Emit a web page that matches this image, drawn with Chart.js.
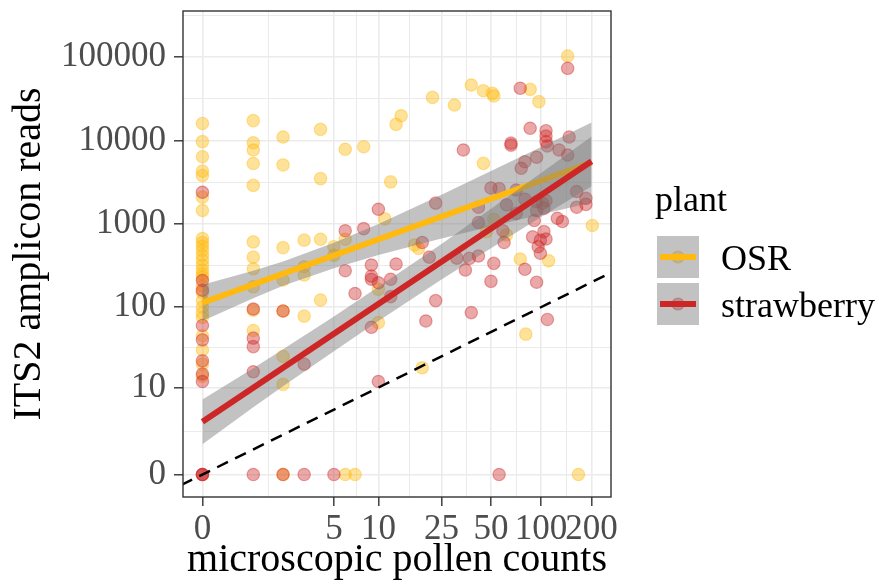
<!DOCTYPE html>
<html>
<head>
<meta charset="utf-8">
<script src="https://cdn.jsdelivr.net/npm/chart.js@4"></script>
<style>
  html, body { margin: 0; padding: 0; background: #fff; }
</style>
</head>
<body>
<canvas id="pollenChart" width="879" height="588"></canvas>
<script>
// both axes are drawn on a log10(value + 1) scale
const xTicks = [0, 5, 10, 25, 50, 100, 200];
const yTicks = [0, 10, 100, 1000, 10000, 100000];

// OSR samples: microscopic pollen counts / ITS2 reads
const osrCounts = [
  0, 0, 0, 0, 0, 0, 0, 0, 0, 0, 0, 0, 0, 0, 0, 0, 0, 0, 0, 0, 0, 0, 0, 0, 0, 0, 0,
  1, 1, 1, 1, 1, 1, 1, 1, 1, 1, 1,
  2, 2, 2, 2, 2, 2, 2, 2,
  3, 3, 3, 3,
  4, 4, 4, 4,
  5, 5, 6, 6, 6, 7, 8, 10, 10, 11, 12, 13, 14, 17, 18, 19, 22, 30, 38,
  45, 45, 47, 51, 52, 52, 62, 75, 81, 86, 97, 111, 144, 167, 202
];
const osrReads = [
  16000, 9700, 6400, 4300, 3800, 2100, 1450, 670, 600, 540, 480, 420, 370, 320, 280, 250, 230, 180, 150, 120, 100, 85, 75, 45, 30, 20, 14,
  17300, 9400, 7700, 5300, 2900, 610, 400, 290, 176, 92, 52,
  11000, 5100, 520, 213, 90, 25, 11, 0,
  640, 307, 244, 78,
  13600, 3500, 655, 122,
  534, 420, 7850, 655, 0, 0, 8430, 164, 65, 1150, 3200, 15600, 19800, 560, 510, 18, 32900, 26600, 46200,
  39500, 5330, 810, 36700, 34200, 1140, 740, 380, 47, 41000, 29200, 362, 102800, 0, 960
];

// strawberry samples
const strawCounts = [
  0, 0, 0, 0, 0, 0, 0, 0, 0, 0, 0,
  1, 1, 1, 1, 1, 2, 2, 3, 3, 5,
  6, 6, 7, 8, 9, 9, 9, 9, 10, 10, 10, 12, 12, 13,
  19, 20, 21, 23, 23, 31, 34, 35, 37, 38, 42, 42, 42,
  50, 50, 52, 56, 56, 59, 60, 62, 66, 66, 71, 71, 75, 76, 80, 80, 80,
  86, 89, 91, 94, 94, 94, 94, 96, 99, 99, 102, 104, 104,
  107, 107, 107, 107, 107, 109, 109, 125, 128, 134, 144, 144, 147, 163, 163, 185, 185
];
const strawReads = [
  2400, 210, 160, 60, 40, 22, 15, 12, 0, 0, 0,
  95, 42, 33, 16, 0, 90, 0, 20, 0, 0,
  830, 275, 146, 880, 322, 237, 217, 57, 1500, 197, 12, 217, 134, 331,
  600, 68, 400, 1780, 120, 390, 7700, 280, 387, 86, 1590, 1040, 413,
  2700, 205, 337, 2650, 0, 830, 600, 1700, 9300, 8800, 2550, 1340, 42200, 4650, 5570, 1980, 286,
  14000, 700, 1100, 6300, 1850, 1450, 200, 534, 640, 445, 1770, 1540, 810,
  13100, 11300, 9700, 1900, 660, 8600, 71, 1170, 7700, 1070, 73200, 6700, 11000, 2450, 1590, 2030, 1720
];

// linear fits and their confidence ribbons
const fitCounts = [0, 200];
const osrFit = [113, 5450];
const strawFit = [3.3, 5650];
const bandCounts = [0, 1, 2, 5, 10, 25, 50, 100, 200];
const osrLow = [68, 128, 181, 295, 426, 672, 934, 1300, 1810];
const osrHigh = [187, 274, 355, 597, 1000, 2240, 4300, 8360, 16400];
const strawLow = [1.3, 5.4, 10.4, 29, 68, 216, 513, 1210, 2840];
const strawHigh = [6.9, 17.8, 30.6, 77, 176, 576, 1520, 4070, 11200];

// 1:1 reference line (reads = counts)
const refLine = [-0.25, 300];

const OSR_COL = '#FFB90F';
const STRAW_COL = '#CD2626';
const OSR_PT = 'rgba(255,185,15,0.42)';
const STRAW_PT = 'rgba(205,38,38,0.4)';
const RIBBON = 'rgba(120,120,120,0.45)';
const SERIF = '"Liberation Serif", "Times New Roman", serif';

const tr = v => Math.log10(v + 1);
const pts = (cs, rs) => cs.map((c, i) => ({ x: tr(c), y: tr(rs[i]) }));

function withMinor(values, min, max) {
    const major = values.map(tr);
    const minor = [];
    for (let i = 0; i < major.length - 1; i++) minor.push((major[i] + major[i + 1]) / 2);
    minor.push(major[0] - (major[1] - major[0]) / 2);
    const n = major.length;
    minor.push(major[n - 1] + (major[n - 1] - major[n - 2]) / 2);
    return major.map(v => ({ value: v }))
        .concat(minor.filter(v => v >= min && v <= max).map(v => ({ value: v, minor: true })))
        .sort((a, b) => a.value - b.value);
}

const gridOpts = {
    color: '#EBEBEB',
    lineWidth: ctx => (ctx.tick && ctx.tick.minor ? 1 : 1.6),
    tickColor: ctx => (ctx.tick && ctx.tick.minor ? 'rgba(0,0,0,0)' : '#333333'),
    tickWidth: 1.4,
    tickLength: 9
};
const tickLabel = (value, index, ticks) =>
    ticks[index].minor ? '' : String(Math.round(Math.pow(10, value) - 1));

const panelBorder = {
    id: 'panelBorder',
    afterDatasetsDraw(chart) {
        const { ctx, chartArea: a } = chart;
        ctx.save();
        ctx.strokeStyle = '#333333';
        ctx.lineWidth = 1.4;
        ctx.strokeRect(a.left, a.top, a.right - a.left, a.bottom - a.top);
        ctx.restore();
    }
};

const plantLegend = {
    id: 'plantLegend',
    afterDraw(chart) {
        const ctx = chart.ctx;
        ctx.save();
        ctx.fillStyle = '#000';
        ctx.font = '36px ' + SERIF;
        ctx.textBaseline = 'alphabetic';
        ctx.fillText('plant', 655, 211);
        const items = [['OSR', OSR_COL, OSR_PT], ['strawberry', STRAW_COL, STRAW_PT]];
        items.forEach((it, i) => {
            const bx = 657, by = 236 + i * 47, size = 42;
            const cx = bx + size / 2, cy = by + size / 2;
            ctx.fillStyle = '#fff';
            ctx.fillRect(bx, by, size, size);
            ctx.beginPath();
            ctx.arc(cx, cy, 6, 0, Math.PI * 2);
            ctx.fillStyle = it[2];
            ctx.fill();
            ctx.strokeStyle = it[2];
            ctx.lineWidth = 1.2;
            ctx.stroke();
            ctx.fillStyle = RIBBON;
            ctx.fillRect(bx, by, size, size);
            ctx.strokeStyle = it[1];
            ctx.lineWidth = 6;
            ctx.beginPath();
            ctx.moveTo(bx + 3, cy);
            ctx.lineTo(bx + size - 3, cy);
            ctx.stroke();
            ctx.fillStyle = '#000';
            ctx.fillText(it[0], 721, cy + 13);
        });
        ctx.restore();
    }
};

const lineSet = (data, color, order) => ({
    type: 'line', data, borderColor: color, borderWidth: 6, pointRadius: 0,
    fill: false, tension: 0, order, borderCapStyle: 'butt'
});
const ribbonLow = (data, order) => ({
    type: 'line', data, borderColor: 'rgba(0,0,0,0)', borderWidth: 1, pointRadius: 0,
    fill: false, tension: 0, order
});
const ribbonHigh = (data, order) => ({
    type: 'line', data, borderColor: 'rgba(0,0,0,0)', borderWidth: 1, pointRadius: 0,
    fill: '-1', backgroundColor: RIBBON, tension: 0, order
});

new Chart(document.getElementById('pollenChart'), {
    type: 'scatter',
    data: {
        datasets: [
            { label: 'OSR', data: pts(osrCounts, osrReads), backgroundColor: OSR_PT, borderColor: OSR_PT,
              borderWidth: 1.2, pointRadius: 6.2, order: 10 },
            { label: 'strawberry', data: pts(strawCounts, strawReads), backgroundColor: STRAW_PT, borderColor: STRAW_PT,
              borderWidth: 1.2, pointRadius: 6.2, order: 9 },
            ribbonLow(pts(bandCounts, osrLow), 8),
            ribbonHigh(pts(bandCounts, osrHigh), 7),
            lineSet(pts(fitCounts, osrFit), OSR_COL, 6),
            ribbonLow(pts(bandCounts, strawLow), 5),
            ribbonHigh(pts(bandCounts, strawHigh), 4),
            lineSet(pts(fitCounts, strawFit), STRAW_COL, 3),
            { type: 'line', data: pts(refLine, refLine), borderColor: '#000', borderWidth: 2.5,
              borderDash: [12, 8], pointRadius: 0, fill: false, order: 1, clip: 0 }
        ]
    },
    options: {
        responsive: false,
        animation: false,
        devicePixelRatio: 1,
        events: [],
        layout: { padding: { left: 0, top: 11, right: 268, bottom: 0 } },
        plugins: { legend: { display: false }, tooltip: { enabled: false } },
        scales: {
            x: {
                type: 'linear', min: -0.115, max: 2.418, bounds: 'data',
                afterBuildTicks: s => { s.ticks = withMinor(xTicks, s.min, s.max); },
                afterFit: s => { s.height = 91; s.paddingLeft = 0; s.paddingRight = 0; },
                grid: gridOpts,
                border: { display: false },
                ticks: { autoSkip: false, maxRotation: 0, minRotation: 0, padding: 3,
                         color: '#4D4D4D', font: { family: SERIF, size: 35 }, callback: tickLabel },
                title: { display: true, text: 'microscopic pollen counts', color: '#000',
                         font: { family: SERIF, size: 40 }, padding: { top: 0, bottom: 4 } }
            },
            y: {
                type: 'linear', min: -0.269, max: 5.551, bounds: 'data',
                afterBuildTicks: s => { s.ticks = withMinor(yTicks, s.min, s.max); },
                afterFit: s => { s.width = 183; s.paddingTop = 0; s.paddingBottom = 0; },
                grid: gridOpts,
                border: { display: false },
                ticks: { autoSkip: false, padding: 8,
                         color: '#4D4D4D', font: { family: SERIF, size: 35 }, callback: tickLabel },
                title: { display: true, text: 'ITS2 amplicon reads', color: '#000',
                         font: { family: SERIF, size: 40 }, padding: { top: 5, bottom: 0 } }
            }
        }
    },
    plugins: [panelBorder, plantLegend]
});
</script>
</body>
</html>
